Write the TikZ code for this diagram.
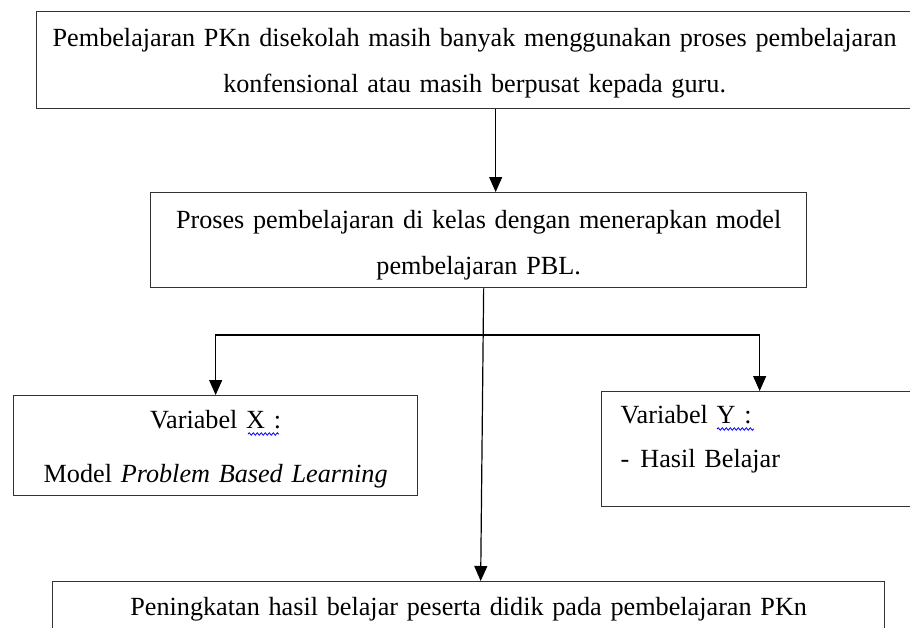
\documentclass[tikz,border=0pt]{standalone}
\usepackage{fontspec}
\setmainfont{Liberation Serif}
\usetikzlibrary{arrows.meta,decorations.pathmorphing}
\tikzset{
  kotak/.style={rectangle, draw=black!80, line width=1.3pt, inner sep=0pt, anchor=north west, align=center, font={\fontsize{26.2}{46}\selectfont}},
  panah/.style={-{Triangle[length=15pt,width=13pt]}, line width=1.2pt},
  ejaan/.style={blue, line width=0.8pt, decorate, decoration={snake, amplitude=1.2pt, segment length=4pt}}
}
\begin{document}
\begin{tikzpicture}[x=1pt,y=-1pt]
\useasboundingbox (0,0) rectangle (910,627);
       \node [kotak, text width=876pt, text height=35pt, text depth=62pt] at (36,11) (masalah) {Pembelajaran PKn disekolah masih banyak menggunakan proses pembelajaran\\ konfensional atau masih berpusat kepada guru.};
          \node [kotak, text width=656pt, text height=36pt, text depth=59pt] at (150,192) (proses) {Proses pembelajaran di kelas dengan menerapkan model\\ pembelajaran PBL.};
             \node [kotak, text width=404pt, text height=33pt, text depth=67pt, font={\fontsize{26.2}{54}\selectfont}] at (13,395) (varx) {Variabel X :\\ Model \textit{Problem Based Learning}};
              \node [kotak, align=left, inner xsep=19pt, text width=278pt, text height=32pt, text depth=83pt, font={\fontsize{26.2}{44}\selectfont}] at (601,391) (vary) {Variabel Y :\\ -\hspace{11pt}Hasil Belajar};
               \node [kotak, text width=832pt, text height=34pt, text depth=80pt] at (52,581) (hasil) {Peningkatan hasil belajar peserta didik pada pembelajaran PKn};
%
             \coordinate (cabang) at (483,335);
%
\draw[panah] ([xshift=21pt]masalah.south) -- ([xshift=17pt]proses.north);
\draw[panah] ([xshift=5pt]proses.south) -- ([xshift=12pt]hasil.north);
\draw[panah] (cabang) -| (varx.north);
\draw[panah] (cabang) -| (vary.north);
% garis ejaan
\draw[ejaan] (248,434) -- (279,434);
\draw[ejaan] (717,429) -- (754,429);

\end{tikzpicture}
\end{document}
